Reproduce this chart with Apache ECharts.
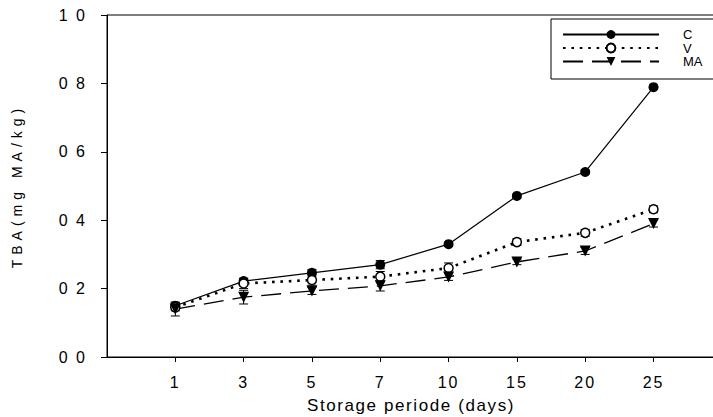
<!DOCTYPE html>
<html>
<head>
    <meta charset="utf-8">
    <title>index</title>
    <style>
        html, body { margin: 0; padding: 0; background: #fff; }
        #container { width: 713px; height: 417px; }
    </style>
</head>
<body>
    <div id="container"></div>
</body>
<script src="https://cdn.jsdelivr.net/npm/echarts@6/dist/echarts.min.js"></script>
<script type="text/javascript">
    // storage days (category labels, placed at positions 1..8)
    var days = ['1', '3', '5', '7', '10', '15', '20', '25'];

    // TBA values
    var cValues = [0.150, 0.222, 0.246, 0.270, 0.330, 0.471, 0.541, 0.789];
    var vValues = [0.145, 0.215, 0.225, 0.235, 0.260, 0.336, 0.363, 0.432];
    var maValues = [0.140, 0.175, 0.193, 0.208, 0.234, 0.278, 0.310, 0.390];

    // error bar half-heights (estimated)
    var cErr = [0.010, 0.008, 0.010, 0.012, 0.006, 0.006, 0.006, 0.006];
    var vErr = [0.010, 0.015, 0.015, 0.015, 0.015, 0.010, 0.010, 0.010];
    var maErr = [0.020, 0.020, 0.010, 0.015, 0.010, 0.008, 0.010, 0.010];

    // y tick labels as printed (decimal point lost in the scan)
    var yTicks = ['0 0', '0 2', '0 4', '0 6', '0 8', '1 0'];

    var xTitle = 'Storage periode (days)';
    var yTitle = 'TBA(mg MA/kg)';

    var positions = days.map(function (d, i) { return i + 1; });

    var toPoints = function (vals) {
        return vals.map(function (v, i) { return [i + 1, v]; });
    };
    var toBars = function (vals, errs) {
        return vals.map(function (v, i) { return [i + 1, v - errs[i], v + errs[i]]; });
    };

    var renderErr = function (params, api) {
        var lo = api.coord([api.value(0), api.value(1)]);
        var hi = api.coord([api.value(0), api.value(2)]);
        var w = 4.5;
        var st = { stroke: '#000', lineWidth: 1 };
        return {
            type: 'group',
            children: [
                { type: 'line', shape: { x1: lo[0], y1: lo[1], x2: hi[0], y2: hi[1] }, style: st },
                { type: 'line', shape: { x1: lo[0] - w, y1: lo[1], x2: lo[0] + w, y2: lo[1] }, style: st },
                { type: 'line', shape: { x1: hi[0] - w, y1: hi[1], x2: hi[0] + w, y2: hi[1] }, style: st }
            ]
        };
    };

    var errSeries = function (vals, errs) {
        return {
            type: 'custom',
            renderItem: renderErr,
            data: toBars(vals, errs),
            encode: { x: 0, y: [1, 2] },
            z: 3,
            silent: true
        };
    };

    var font = 'Liberation Sans';

    var dom = document.getElementById('container'),
        myChart = echarts.init(dom, null, { renderer: 'svg' }),
        option = {
            animation: false,
            textStyle: { fontFamily: font, color: '#000' },
            grid: {
                left: 107, right: -2, top: 15, bottom: 60,
                outerBoundsMode: 'none',
                show: true, borderColor: '#000', borderWidth: 1,
                backgroundColor: 'transparent'
            },
            legend: {
                left: 551, top: 19,
                orient: 'vertical',
                itemWidth: 96, itemHeight: 11, itemGap: 0.5,
                padding: [9, 30, 11, 11],
                borderColor: '#000', borderWidth: 1,
                backgroundColor: '#fff',
                textStyle: { fontFamily: font, fontSize: 13, color: '#000', lineHeight: 11.5, padding: [0, 0, 0, 19] },
                data: ['C', 'V', 'MA']
            },
            xAxis: {
                type: 'value',
                min: 0, max: 8.9, interval: 1,
                name: xTitle,
                nameLocation: 'middle',
                nameGap: 40,
                nameTextStyle: { fontFamily: font, fontSize: 17, color: '#000' },
                axisLine: { lineStyle: { color: '#000', width: 1 } },
                axisTick: { customValues: positions, length: 5, lineStyle: { color: '#000' } },
                axisLabel: {
                    customValues: positions,
                    margin: 17,
                    fontSize: 16, color: '#000', fontFamily: font,
                    formatter: function (v) { return days[Math.round(v) - 1] || ''; }
                },
                splitLine: { show: false }
            },
            yAxis: {
                type: 'value',
                min: 0, max: 1, interval: 0.2,
                name: yTitle,
                nameLocation: 'middle',
                nameGap: 83,
                nameTextStyle: { fontFamily: font, fontSize: 14, color: '#000' },
                axisLine: { show: true, lineStyle: { color: '#000', width: 1 } },
                axisTick: { show: true, length: 6, lineStyle: { color: '#000' } },
                axisLabel: {
                    margin: 20,
                    fontSize: 16, color: '#000', fontFamily: font,
                    formatter: function (v) { return yTicks[Math.round(v * 5)]; }
                },
                splitLine: { show: false }
            },
            series: [
                {
                    name: 'C', type: 'line', data: toPoints(cValues),
                    symbol: 'circle', symbolSize: 10,
                    itemStyle: { color: '#000' },
                    lineStyle: { color: '#000', width: 1.2, type: 'solid' },
                    z: 4
                },
                {
                    name: 'V', type: 'line', data: toPoints(vValues),
                    symbol: 'circle', symbolSize: 9,
                    itemStyle: { color: '#fff', borderColor: '#000', borderWidth: 1.5 },
                    lineStyle: { color: '#000', width: 2.6, type: [2.6, 5.8] },
                    z: 4
                },
                {
                    name: 'MA', type: 'line', data: toPoints(maValues),
                    symbol: 'triangle', symbolRotate: 180, symbolSize: 11,
                    itemStyle: { color: '#000' },
                    lineStyle: { color: '#000', width: 1.3, type: [20, 9] },
                    z: 4
                },
                errSeries(cValues, cErr),
                errSeries(vValues, vErr),
                errSeries(maValues, maErr)
            ]
        };

    myChart.setOption(option, true);

    // the scanned figure has widely spaced text
    var spacing = {};
    spacing[xTitle] = '1.6';
    spacing[yTitle] = '5';
    days.concat(yTicks).forEach(function (t) { spacing[t] = '2'; });
    var texts = dom.querySelectorAll('text');
    for (var i = 0; i < texts.length; i++) {
        var s = spacing[texts[i].textContent];
        if (s) {
            texts[i].setAttribute('letter-spacing', s);
            texts[i].setAttribute('xml:space', 'preserve');
        }
    }
</script>
</html>
